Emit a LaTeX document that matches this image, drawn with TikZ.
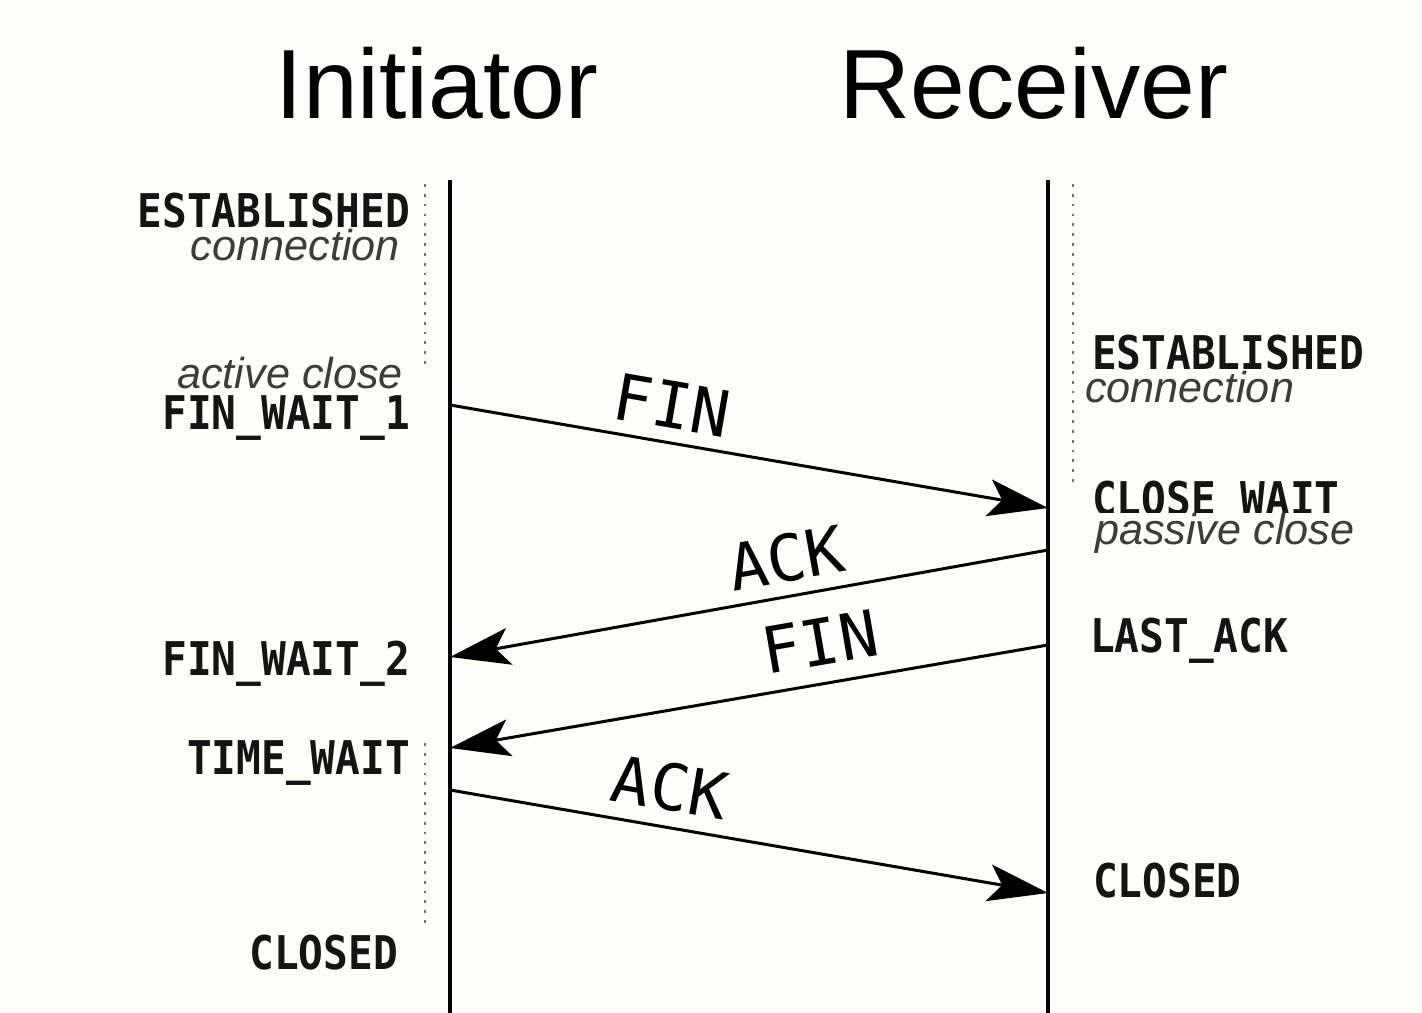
\documentclass[tikz,border=0pt]{standalone}
\usepackage{fontspec}
\usepackage{graphicx}
\setmainfont{Liberation Sans}
\newfontfamily\monofam{DejaVu Sans Mono}
\usetikzlibrary{arrows.meta}
\definecolor{bgc}{RGB}{253,253,249}
\definecolor{inkc}{RGB}{20,20,20}
\definecolor{notec}{RGB}{60,60,60}
\newcommand\tallst[1]{\scalebox{1}[1.13]{#1}}
\begin{document}
\begin{tikzpicture}[x=0.02cm,y=-0.02cm,
  every node/.style={inner sep=0pt,outer sep=0pt},
  title/.style={font=\fontsize{56}{62}\selectfont,text=black},
  statelbl/.style={font=\monofam\bfseries\fontsize{23.4}{26}\selectfont,text=inkc},
  notelbl/.style={font=\itshape\fontsize{24.6}{27}\selectfont,text=notec},
  msglbl/.style={font=\monofam\fontsize{36.5}{40}\selectfont,text=black},
  lifeline/.style={line width=1.75pt,draw=black},
  msg/.style={line width=1.7pt,draw=black,-{Stealth[length=1.2cm,width=0.74cm,inset=0.27cm]}},
  timer/.style={line width=1.6pt,draw=black!55,dash pattern=on 1.6pt off 4pt}]
\fill[bgc] (0,0) rectangle (1422,1013);
\useasboundingbox (0,0) rectangle (1422,1013);

% titles
\node[title,anchor=base] (tI) at (437,119) {Initiator};
\node[title,anchor=base] (tR) at (1034,119) {Receiver};

% lifelines
\coordinate (Itop) at (450,180);
\coordinate (Ibot) at (450,1013);
\coordinate (Rtop) at (1048,180);
\coordinate (Rbot) at (1048,1013);
\draw[lifeline] (Itop) -- (Ibot);
\draw[lifeline] (Rtop) -- (Rbot);

% dotted timers
\coordinate (d1a) at (425,184); \coordinate (d1b) at (425,368);
\coordinate (d2a) at (1073,184); \coordinate (d2b) at (1073,486);
\coordinate (d3a) at (425,743); \coordinate (d3b) at (425,926);
\draw[timer] (d1a) -- (d1b);
\draw[timer] (d2a) -- (d2b);
\draw[timer] (d3a) -- (d3b);

% message endpoints
\coordinate (i1) at (450,405);  \coordinate (r1) at (1048,508);
\coordinate (r2) at (1048,550); \coordinate (i2) at (450,657);
\coordinate (r3) at (1048,645); \coordinate (i3) at (450,748);
\coordinate (i4) at (450,790);  \coordinate (r4) at (1048,893);
\draw[msg] (i1) -- (r1);
\draw[msg] (r2) -- (i2);
\draw[msg] (r3) -- (i3);
\draw[msg] (i4) -- (r4);

% message labels
\node[msglbl,rotate=-9.8] (m1) at (672,405) {FIN};
\node[msglbl,rotate=10.1] (m2) at (786,558) {ACK};
\node[msglbl,rotate=9.8]  (m3) at (820,642) {FIN};
\node[msglbl,rotate=-9.8] (m4) at (670,787) {ACK};

% initiator states
\node[statelbl,anchor=base east] (sE1) at (410,228) {\tallst{ESTABLISHED}};
\node[notelbl,anchor=base east]  (nC1) at (400,261) {connection};
\node[notelbl,anchor=base east]  (nA)  at (403,388) {active close};
\node[statelbl,anchor=base east] (sF1) at (410,429) {\tallst{FIN\_WAIT\_1}};
\node[statelbl,anchor=base east] (sF2) at (410,675) {\tallst{FIN\_WAIT\_2}};
\node[statelbl,anchor=base east] (sT)  at (410,774) {\tallst{TIME\_WAIT}};
\node[statelbl,anchor=base east] (sC1) at (398,969) {\tallst{CLOSED}};

% receiver states
\node[statelbl,anchor=base west] (sE2) at (1092,369) {\tallst{ESTABLISHED}};
\node[notelbl,anchor=base west]  (nC2) at (1085,402) {connection};
\node[statelbl,anchor=base west] (sCW) at (1092,515) {\tallst{CLOSE\_WAIT}};
\node[notelbl,anchor=base west,fill=bgc] (nP) at (1095,544) {passive close};
\node[statelbl,anchor=base west] (sL)  at (1090,652) {\tallst{LAST\_ACK}};
\node[statelbl,anchor=base west] (sC2) at (1093,897) {\tallst{CLOSED}};
\end{tikzpicture}
\end{document}
